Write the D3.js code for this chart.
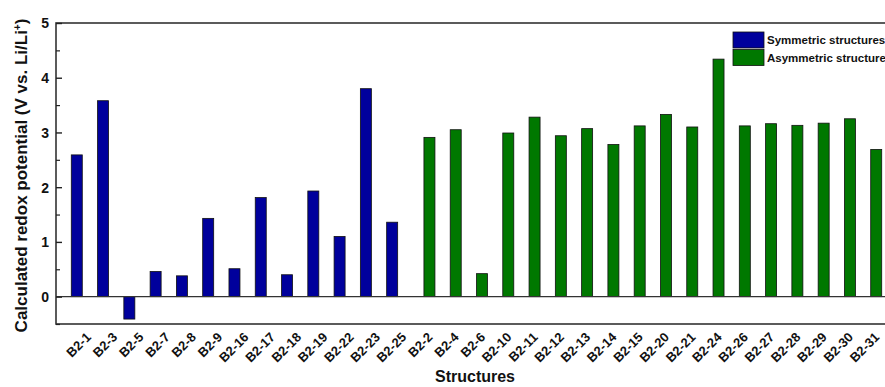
<!DOCTYPE html>
<html><head><meta charset="utf-8">
<script src="https://cdn.jsdelivr.net/npm/d3@7"></script>
<style>body{margin:0;background:#fff}svg{display:block}text{font-family:"Liberation Sans",Arial,sans-serif;font-weight:bold;fill:#111}</style>
</head><body><svg id="c" width="885" height="387"></svg>
<script>
const categories = ["B2-1","B2-3","B2-5","B2-7","B2-8","B2-9","B2-16","B2-17","B2-18","B2-19","B2-22","B2-23","B2-25",
  "B2-2","B2-4","B2-6","B2-10","B2-11","B2-12","B2-13","B2-14","B2-15","B2-20","B2-21","B2-24","B2-26","B2-27","B2-28","B2-29","B2-30","B2-31"];
const symmetricNames = ["B2-1","B2-3","B2-5","B2-7","B2-8","B2-9","B2-16","B2-17","B2-18","B2-19","B2-22","B2-23","B2-25"];
const symmetricValues = [2.59,3.58,-0.41,0.46,0.38,1.43,0.51,1.81,0.40,1.93,1.10,3.80,1.36];
const asymmetricNames = ["B2-2","B2-4","B2-6","B2-10","B2-11","B2-12","B2-13","B2-14","B2-15","B2-20","B2-21","B2-24","B2-26","B2-27","B2-28","B2-29","B2-30","B2-31"];
const asymmetricValues = [2.91,3.05,0.42,2.99,3.28,2.94,3.07,2.78,3.12,3.33,3.10,4.34,3.12,3.16,3.13,3.17,3.25,2.69];
const yTicks = [0,1,2,3,4,5];
const seriesNames = ["Symmetric structures","Asymmetric structure"];
const colors = ["#00009c","#007800"];

const svg = d3.select("#c");
const L=56, T=23, R=897, B=324;
const x = d3.scaleLinear().domain([-1, categories.length]).range([L, R]);
const y = d3.scaleLinear().domain([-0.5, 5]).range([B, T]);
const bw = 11;

const series = [
  {names:symmetricNames, values:symmetricValues, off:-bw/2, color:colors[0]},
  {names:asymmetricNames, values:asymmetricValues, off:bw/2, color:colors[1]}
];
const g = svg.append("g");
series.forEach(s=>{
  g.selectAll(null).data(s.names.map((n,i)=>({n,v:s.values[i]}))).enter().append("rect")
    .attr("x", d=>x(categories.indexOf(d.n))+s.off-bw/2)
    .attr("width", bw)
    .attr("y", d=>y(Math.max(0,d.v)))
    .attr("height", d=>Math.abs(y(d.v)-y(0)))
    .attr("fill", s.color).attr("stroke","#111").attr("stroke-width",0.8);
});
svg.append("line").attr("x1",L).attr("x2",R).attr("y1",y(0)).attr("y2",y(0)).attr("stroke","#333").attr("stroke-width",1.2);
svg.append("rect").attr("x",L).attr("y",T).attr("width",R-L).attr("height",B-T).attr("fill","none").attr("stroke","#333").attr("stroke-width",1.6);
const yAxis = d3.axisRight(y).tickValues(yTicks).tickSize(6).tickFormat(d3.format("d"));
const ya = svg.append("g").attr("transform",`translate(${L},0)`).call(yAxis);
ya.select(".domain").remove();
ya.selectAll("line").attr("stroke","#222").attr("stroke-width",1.4);
ya.selectAll("text").attr("x",-7).attr("text-anchor","end").attr("dy","0.35em").style("font-size","14px").style("font-weight","bold").attr("fill","#111");
const minor = d3.axisRight(y).tickValues([-0.5,0.5,1.5,2.5,3.5,4.5]).tickSize(4).tickFormat("");
const ym = svg.append("g").attr("transform",`translate(${L},0)`).call(minor);
ym.select(".domain").remove();
ym.selectAll("line").attr("stroke","#222").attr("stroke-width",1.2);

const xAxis = d3.axisBottom(x).tickValues(d3.range(categories.length)).tickSize(0).tickFormat(i=>categories[i]);
const xa = svg.append("g").attr("transform",`translate(0,${B})`).call(xAxis);
xa.select(".domain").remove();
xa.selectAll("text").attr("text-anchor","end").attr("dy",0).attr("y",0)
  .attr("transform","translate(9,14) rotate(-45)").style("font-size","13px").style("font-weight","bold").attr("fill","#111");

svg.append("text").attr("x",475).attr("y",382).attr("text-anchor","middle").style("font-size","16px").text("Structures");
const yt = svg.append("text").attr("transform",`translate(27,${(T+B)/2+2}) rotate(-90)`).attr("text-anchor","middle").style("font-size","17px");
yt.append("tspan").text("Calculated redox potential (V vs. Li/Li");
yt.append("tspan").attr("dy",-6).style("font-size","10px").text("+");
yt.append("tspan").attr("dy",6).text(")");

const lg = svg.append("g").attr("transform","translate(733,32)");
seriesNames.forEach((n,i)=>{
  lg.append("rect").attr("x",0).attr("y",i*17.5).attr("width",31).attr("height",16).attr("fill",colors[i]).attr("stroke","#111").attr("stroke-width",0.8);
  lg.append("text").attr("x",34).attr("y",i*17.5+12).style("font-size","11.5px").text(n);
});
</script></body></html>
